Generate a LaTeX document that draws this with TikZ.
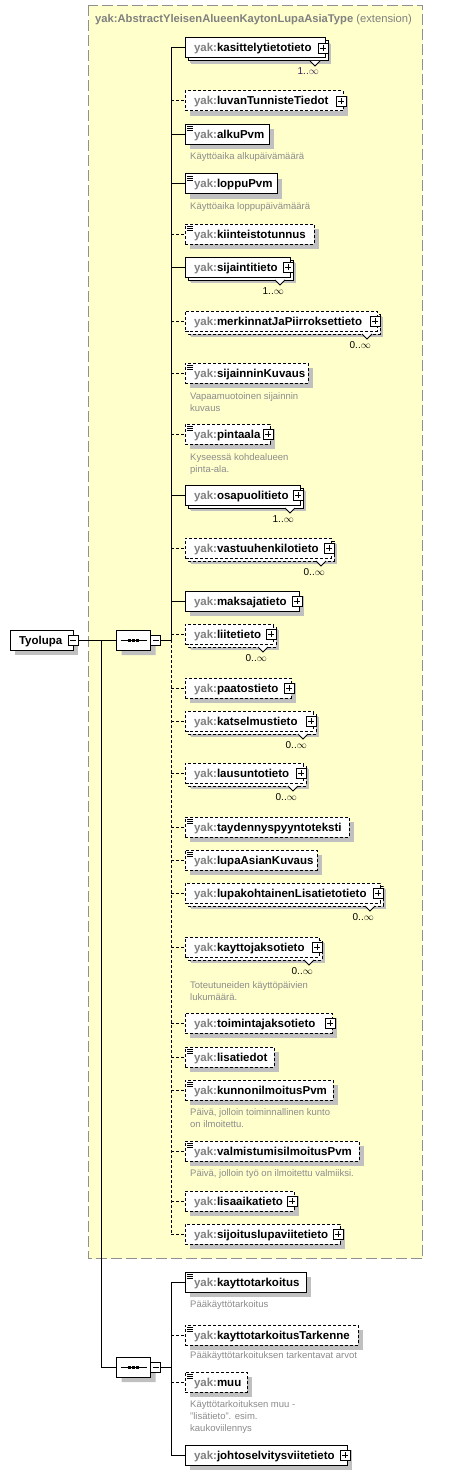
\documentclass[tikz,border=0pt]{standalone}
\usepackage{fontspec}
\setmainfont{Liberation Sans}
\usetikzlibrary{shapes.misc,calc}
\definecolor{yakgray}{HTML}{808080}
\definecolor{shadowc}{HTML}{C0C0C0}
\definecolor{ylwfill}{HTML}{FFFFCC}
\definecolor{docgray}{HTML}{8C8C8C}
\definecolor{multc}{HTML}{3C1E5A}
\definecolor{frameg}{HTML}{909090}
\pgfdeclarelayer{ylw}\pgfdeclarelayer{shd}\pgfdeclarelayer{stk}
\pgfsetlayers{ylw,shd,stk,main}
\newcommand\infy{$\infty$}
\tikzset{
 elem/.style={draw, fill=white, line width=1pt, minimum height=20pt, inner xsep=9pt, inner ysep=0pt, outer sep=0pt, text height=8pt, text depth=0pt, font=\fontsize{11.5}{13}\selectfont\bfseries},
 soll/.style={solid},
 dashl/.style={dash pattern=on 3pt off 2pt},
 sqbox/.style={draw, fill=white, line width=0.8pt, minimum size=10pt, inner sep=0pt, outer sep=0pt},
 plusbox/.style={sqbox, path picture={\draw[line width=0.8pt] ([xshift=2pt]path picture bounding box.west) -- ([xshift=-2pt]path picture bounding box.east) ([yshift=-2pt]path picture bounding box.north) -- ([yshift=2pt]path picture bounding box.south);}},
 minusbox/.style={sqbox, path picture={\draw[line width=0.8pt] ([xshift=2pt]path picture bounding box.west) -- ([xshift=-2pt]path picture bounding box.east);}},
 doc/.style={inner sep=0pt, text=docgray, font=\fontsize{9.5}{12}\selectfont},
 mult/.style={inner sep=0pt, font=\fontsize{10}{12}\selectfont},
 seqbox/.style={chamfered rectangle, chamfered rectangle xsep=6pt, chamfered rectangle ysep=6pt, draw, fill=white, line width=1pt, minimum width=34pt, minimum height=20pt, inner sep=0pt, outer sep=0pt},
 conn/.style={line width=1pt},
 dconn/.style={line width=1pt, dash pattern=on 3pt off 2pt},
}
\newcommand\ElBox[5]{%
 \node[elem, #4, minimum width=#3pt, anchor=west] (#1) at (185,#2) {\makebox[\dimexpr #3pt-18pt\relax][l]{\textcolor{yakgray}{yak:}#5}};
 \begin{pgfonlayer}{shd}
 \fill[shadowc] ([shift={(5,5)}]#1.north west) rectangle ([shift={(5,5)}]#1.south east);
 \end{pgfonlayer}}
\newcommand\ElMulti[4]{%
 \begin{pgfonlayer}{stk}
 \draw[#2, line width=1pt, fill=white] ([shift={(3,3)}]#1.north west) rectangle ([shift={(3,3)}]#1.south east);
 \fill[white] ([shift={(-15,3)}]#1.south east) -- ([shift={(-10,8)}]#1.south east) -- ([shift={(-5,3)}]#1.south east) -- cycle;
 \draw[line width=0.8pt] ([shift={(-15,3)}]#1.south east) -- ([shift={(-10,8)}]#1.south east) -- ([shift={(-5,3)}]#1.south east);
 \end{pgfonlayer}
 \begin{pgfonlayer}{shd}
 \fill[shadowc] ([shift={(6,6)}]#1.north west) rectangle ([shift={(6,6)}]#1.south east);
 \end{pgfonlayer}
 \node[mult, text=#4, anchor=base east] (#1m) at ([shift={(-6,17)}]#1.south east) {#3};}
\newcommand\ElPlus[1]{\node[plusbox] (#1p) at ([xshift=-2pt]#1.east) {};}
\newcommand\ElIcon[1]{\draw[line width=0.7pt] ([shift={(2,2)}]#1.north west) -- +(6,0) ([shift={(2,4)}]#1.north west) -- +(6,0) ([shift={(2,6)}]#1.north west) -- +(6,0);}
\newcommand\ElDoc[3]{\node[doc, anchor=base west] (#1) at (190,#2) {#3};}
\begin{document}
\begin{tikzpicture}[x=1pt,y=-1pt]
\useasboundingbox (0,0) rectangle (465,1474);
\begin{pgfonlayer}{ylw}
\fill[white] (0,0) rectangle (465,1474);
\draw[frameg, line width=1.2pt, dash pattern=on 11pt off 4pt, fill=ylwfill] (88.5,5.5) rectangle (422.5,1258.5);
\end{pgfonlayer}
\node[anchor=base west, inner sep=0pt, font=\fontsize{11.2}{13}\selectfont, text=yakgray] (title) at (95,23) {\textbf{yak:AbstractYleisenAlueenKaytonLupaAsiaType} (extension)};
% group 1
\ElBox{e1}{48}{140}{soll}{kasittelytietotieto}\ElMulti{e1}{soll}{1..\infy}{multc}\ElPlus{e1}
\ElBox{e2}{101}{158}{dashl}{luvanTunnisteTiedot}\ElPlus{e2}
\ElBox{e3}{134.5}{84}{soll}{alkuPvm}\ElIcon{e3}\ElDoc{d3}{159.5}{Käyttöaika alkupäivämäärä}
\ElBox{e4}{184}{92}{soll}{loppuPvm}\ElIcon{e4}\ElDoc{d4}{209.5}{Käyttöaika loppupäivämäärä}
\ElBox{e5}{234}{129}{dashl}{kiinteistotunnus}\ElIcon{e5}
\ElBox{e6}{267}{105}{soll}{sijaintitieto}\ElMulti{e6}{soll}{1..\infy}{black}\ElPlus{e6}
\ElBox{e7}{321}{192}{dashl}{merkinnatJaPiirroksettieto}\ElMulti{e7}{dashl}{0..\infy}{black}\ElPlus{e7}
\ElBox{e8}{373}{123}{dashl}{sijainninKuvaus}\ElIcon{e8}\ElDoc{d8a}{399}{Vapaamuotoinen sijainnin}\ElDoc{d8b}{411}{kuvaus}
\ElBox{e9}{434}{85}{dashl}{pintaala}\ElIcon{e9}\ElPlus{e9}\ElDoc{d9a}{460}{Kyseessä kohdealueen}\ElDoc{d9b}{472}{pinta-ala.}
\ElBox{e10}{495}{115}{soll}{osapuolitieto}\ElMulti{e10}{soll}{1..\infy}{black}\ElPlus{e10}
\ElBox{e11}{548}{146}{dashl}{vastuuhenkilotieto}\ElMulti{e11}{dashl}{0..\infy}{black}\ElPlus{e11}
\ElBox{e12}{601}{114}{soll}{maksajatieto}\ElPlus{e12}
\ElBox{e13}{634}{88}{dashl}{liitetieto}\ElMulti{e13}{dashl}{0..\infy}{black}\ElPlus{e13}
\ElBox{e14}{688}{106}{dashl}{paatostieto}\ElPlus{e14}
\ElBox{e15}{721}{128}{dashl}{katselmustieto}\ElMulti{e15}{dashl}{0..\infy}{black}\ElPlus{e15}
\ElBox{e16}{773}{118}{dashl}{lausuntotieto}\ElMulti{e16}{dashl}{0..\infy}{black}\ElPlus{e16}
\ElBox{e17}{827}{164}{dashl}{taydennyspyyntoteksti}\ElIcon{e17}
\ElBox{e18}{860}{132}{dashl}{lupaAsianKuvaus}\ElIcon{e18}
\ElBox{e19}{893}{195}{dashl}{lupakohtainenLisatietotieto}\ElMulti{e19}{dashl}{0..\infy}{black}\ElPlus{e19}
\ElBox{e20}{947}{134}{dashl}{kayttojaksotieto}\ElMulti{e20}{dashl}{0..\infy}{black}\ElPlus{e20}\ElDoc{d20a}{988}{Toteutuneiden käyttöpäivien}\ElDoc{d20b}{1000}{lukumäärä.}
\ElBox{e21}{1023}{147}{dashl}{toimintajaksotieto}\ElPlus{e21}
\ElBox{e22}{1057}{89}{dashl}{lisatiedot}\ElIcon{e22}
\ElBox{e23}{1090}{148}{dashl}{kunnonilmoitusPvm}\ElIcon{e23}\ElDoc{d23a}{1115}{Päivä, jolloin toiminnallinen kunto}\ElDoc{d23b}{1127}{on ilmoitettu.}
\ElBox{e24}{1151}{174}{dashl}{valmistumisilmoitusPvm}\ElIcon{e24}\ElDoc{d24}{1176}{Päivä, jolloin työ on ilmoitettu valmiiksi.}
\ElBox{e25}{1201}{109}{dashl}{lisaaikatieto}\ElPlus{e25}
\ElBox{e26}{1234}{155}{dashl}{sijoituslupaviitetieto}\ElPlus{e26}
% group 2
\ElBox{e27}{1282}{121}{soll}{kayttotarkoitus}\ElIcon{e27}\ElDoc{d27}{1307}{Pääkäyttötarkoitus}
\ElBox{e28}{1335}{173}{dashl}{kayttotarkoitusTarkenne}\ElIcon{e28}\ElDoc{d28}{1358}{Pääkäyttötarkoituksen tarkentavat arvot}
\ElBox{e29}{1382}{62}{dashl}{muu}\ElIcon{e29}\ElDoc{d29a}{1407}{Käyttötarkoituksen muu -}\ElDoc{d29b}{1419}{"lisätieto". esim.}\ElDoc{d29c}{1431}{kaukoviilennys}
\ElBox{e30}{1455}{162}{soll}{johtoselvitysviitetieto}\ElPlus{e30}
% root and sequences
\node[elem, soll, minimum width=63pt, anchor=west] (ty) at (10,640) {\makebox[45pt][l]{Tyolupa}};
\begin{pgfonlayer}{shd}
\fill[shadowc] ([shift={(5,5)}]ty.north west) rectangle ([shift={(5,5)}]ty.south east);
\end{pgfonlayer}
\node[minusbox] (tym) at (ty.east) {};
\node[seqbox] (s1) at (133.5,640) {};
\node[minusbox] (s1m) at ([xshift=5pt]s1.east) {};
\node[seqbox] (s2) at (133.5,1367) {};
\node[minusbox] (s2m) at ([xshift=5pt]s2.east) {};
\begin{pgfonlayer}{shd}
\node[seqbox, draw=none, fill=shadowc] (s1sh) at ([shift={(5,5)}]s1.center) {};
\node[seqbox, draw=none, fill=shadowc] (s2sh) at ([shift={(5,5)}]s2.center) {};
\end{pgfonlayer}
\foreach \s in {s1,s2}{
 \draw[line width=1pt] ([xshift=4pt]\s.west) -- ([xshift=-4pt]\s.east);
 \fill ([shift={(-5.5,-1.5)}]\s.center) rectangle +(3,3);
 \fill ([shift={(-1.5,-1.5)}]\s.center) rectangle +(3,3);
 \fill ([shift={(2.5,-1.5)}]\s.center) rectangle +(3,3);
}
\coordinate (j) at (101,640);
\coordinate (b1) at (171,640);
\coordinate (b2) at (171,1367);
\draw[conn] (tym.east) -- (s1.west);
\draw[conn] (j) |- (s2.west);
\draw[conn] (s1m.east) -- (b1);
\draw[conn] (s2m.east) -- (b2);
\draw[conn] (e1.west -| b1) -- (b1);
\draw[dconn] (b1) -- (e26.west -| b1);
\foreach \e in {e1,e3,e4,e6,e10,e12}{\draw[conn] (\e.west -| b1) -- (\e.west);}
\foreach \e in {e2,e5,e7,e8,e9,e11,e13,e14,e15,e16,e17,e18,e19,e20,e21,e22,e23,e24,e25,e26}{\draw[dconn] (\e.west -| b1) -- (\e.west);}
\draw[conn] (e27.west -| b2) -- (e30.west -| b2);
\foreach \e in {e27,e30}{\draw[conn] (\e.west -| b2) -- (\e.west);}
\foreach \e in {e28,e29}{\draw[dconn] (\e.west -| b2) -- (\e.west);}
\end{tikzpicture}
\end{document}
